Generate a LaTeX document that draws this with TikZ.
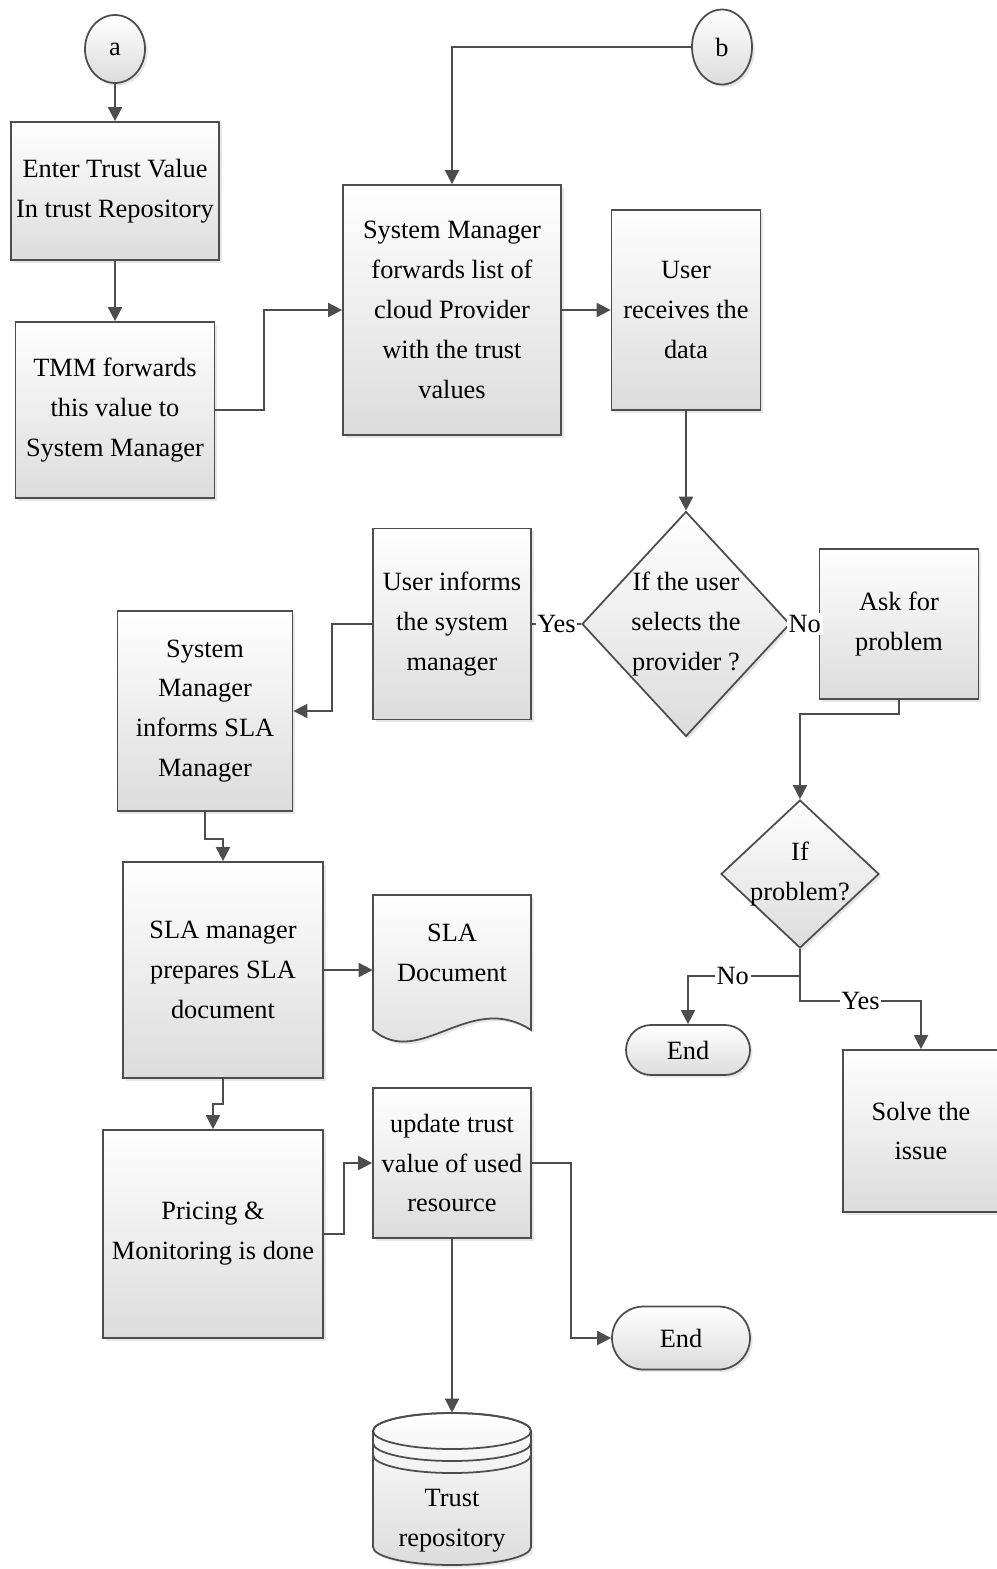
\documentclass[tikz,border=0pt]{standalone}
\usepackage{fontspec}
\setmainfont{Liberation Serif}
\usepackage{tikz}
\usetikzlibrary{arrows.meta, shapes.geometric, shapes.misc, shadows}
\definecolor{linec}{HTML}{4D4D4D}
\definecolor{shadeg}{HTML}{DCDCDC}
\begin{document}
\begin{tikzpicture}[
    x=0.02cm, y=-0.02cm,
    >={Triangle[length=8pt, width=8pt]},
    every node/.style={font=\fontsize{15}{22.7}\selectfont},
    line/.style={draw=linec, line width=1pt},
    arr/.style={line, ->},
    lbl/.style={fill=white, inner sep=1pt},
    filled/.style={draw=linec, line width=1pt, top color=white, bottom color=shadeg,
        drop shadow={shadow xshift=1.5pt, shadow yshift=-1.5pt, opacity=0.2}},
    box/.style={filled, rectangle, align=center, inner sep=0pt},
    conn/.style={filled, ellipse, inner sep=0pt},
    decision/.style={filled, diamond, inner sep=0pt},
    term/.style={filled, rounded rectangle, inner sep=0pt}
]
\useasboundingbox (0,0) rectangle (997,1569);

\node[conn, minimum width=1.2cm, minimum height=1.36cm] (a) at (115,49) {a};
\node[conn, minimum width=1.2cm, minimum height=1.5cm] (b) at (722,47) {b};

\node[box, minimum width=4.16cm, minimum height=2.76cm] (enter) at (115,191) {Enter Trust Value\\In trust Repository};
\node[box, minimum width=3.98cm, minimum height=3.52cm] (tmm) at (115,410) {TMM forwards\\this value to\\System Manager};
\node[box, minimum width=4.36cm, minimum height=5.0cm] (sysfw) at (452,310) {System Manager\\forwards list of\\cloud Provider\\with the trust\\values};
\node[box, minimum width=2.98cm, minimum height=4.0cm] (recv) at (686,310) {User\\receives the\\data};

\node[decision, minimum width=4.16cm, minimum height=4.5cm,
    label={[align=center]center:If the user\\selects the\\provider ?}] (dec1) at (686,624) {};
\node[box, minimum width=3.18cm, minimum height=3.0cm] (ask) at (899,624) {Ask for\\problem};
\node[box, minimum width=3.16cm, minimum height=3.82cm] (inform) at (452,624) {User informs\\the system\\manager};
\node[box, minimum width=3.5cm, minimum height=4.0cm] (smsla) at (205,711) {System\\Manager\\informs SLA\\Manager};

\node[decision, minimum width=3.16cm, minimum height=2.96cm,
    label={[align=center]center:If\\problem?}] (dec2) at (800,874) {};
\node[term, minimum width=2.48cm, minimum height=1cm] (end1) at (688,1050) {End};
\node[box, minimum width=3.12cm, minimum height=3.24cm] (solve) at (921,1131) {Solve the\\issue};

\node[box, minimum width=4.0cm, minimum height=4.32cm] (slaprep) at (223,970) {SLA manager\\prepares SLA\\document};
\path[filled] (373,895) -- (531,895) -- (531,1030)
    .. controls (470,990) and (420,1070) .. (373,1030) -- cycle;
\node[align=center, inner sep=0pt, minimum width=3.16cm] (sladoc) at (452,953) {SLA\\Document};

\node[box, minimum width=4.4cm, minimum height=4.16cm] (pricing) at (213,1234) {Pricing \&\\Monitoring is done};
\node[box, minimum width=3.16cm, minimum height=3.0cm] (update) at (452,1163) {update trust\\value of used\\resource};
\node[term, minimum width=2.76cm, minimum height=1.26cm] (end2) at (681,1338) {End};

\path[filled] (373,1431) -- (373,1547) arc[start angle=180, end angle=360, x radius=1.58cm, y radius=0.36cm]
    -- (531,1431) arc[start angle=0, end angle=180, x radius=1.58cm, y radius=0.36cm] -- cycle;
\draw[line] (452,1431) ellipse [x radius=1.58cm, y radius=0.36cm];
\draw[line] (373,1443) arc[start angle=180, end angle=360, x radius=1.58cm, y radius=0.36cm];
\draw[line] (373,1455) arc[start angle=180, end angle=360, x radius=1.58cm, y radius=0.36cm];
\node[inner sep=0pt, minimum width=3.16cm, minimum height=3.04cm,
    label={[align=center, yshift=-0.64cm]center:Trust\\repository}] (repo) at (452,1489) {};

\draw[arr] (a) -- (enter);
\draw[arr] (enter) -- (tmm);
\draw[arr] (tmm.east) -- ++(49,0) |- (sysfw.west);
\draw[arr] (b.west) -| (sysfw.north);
\draw[arr] (sysfw.east) -- (recv.west);
\draw[arr] (recv.south) -- (dec1.north);
\draw[line] (dec1.west) -- node[lbl] {Yes} (inform.east);
\draw[line] (dec1.east) -- node[lbl] {No} (ask.west);
\draw[arr] (ask.south) -- ++(0,14) -| (dec2.north);
\draw[arr] (inform.west) -- ++(-40,0) |- (smsla.east);
\draw[arr] (smsla.south) -- ++(0,27) -| (slaprep.north);
\draw[arr] (slaprep.east) -- (slaprep.east -| sladoc.west);
\draw[arr] (slaprep.south) -- ++(0,25) -| (pricing.north);
\draw[arr] (pricing.east) -- ++(20,0) |- (update.west);
\draw[arr] (update.east) -- ++(39,0) |- (end2.west);
\draw[arr] (update.south) -- (repo.north);
\draw[line] (dec2.south) -- ++(0,27) coordinate (split);
\draw[arr] (split) -| node[lbl, pos=0.3] {No} (end1.north);
\draw[arr] (split) -- ++(0,25) -| node[lbl, pos=0.25] {Yes} (solve.north);
\end{tikzpicture}
\end{document}
